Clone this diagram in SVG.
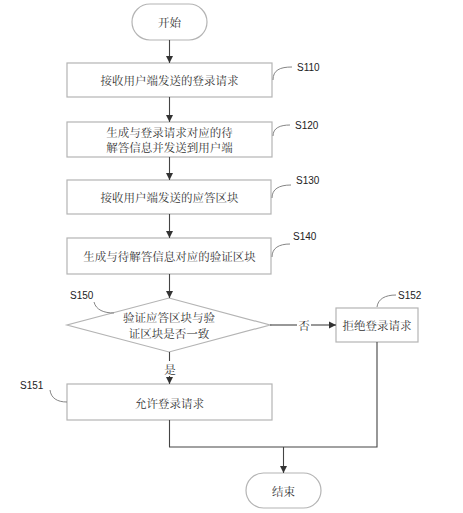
<svg xmlns="http://www.w3.org/2000/svg" width="463" height="513" viewBox="0 0 463 513">
<style>
.box{fill:#fff;stroke:#b4b4b4;stroke-width:1.2}
.t{font-family:"Noto Serif CJK SC","Noto Sans CJK SC",serif;font-size:11.5px;fill:#333;text-anchor:middle;dominant-baseline:central}
.lbl{font-family:"Liberation Sans",Arial,sans-serif;font-size:10px;fill:#222;dominant-baseline:central}
.ln{fill:none;stroke:#444;stroke-width:1.1}
.ld{fill:none;stroke:#777;stroke-width:0.9}
</style>
<defs>
<marker id="ah" markerWidth="8" markerHeight="8" refX="7" refY="4" orient="auto" markerUnits="userSpaceOnUse">
<path d="M0,0.5 L7,4 L0,7.5 Z" fill="#333"/>
</marker>
</defs>
<rect width="463" height="513" fill="#fff"/>
<g id="start"><rect class="box" x="132" y="4" width="75" height="36" rx="18"/><text class="t" x="169.5" y="22">开始</text></g>
<g id="s110"><rect class="box" x="67" y="63" width="205" height="34"/><text class="t" x="169.5" y="80">接收用户端发送的登录请求</text><path class="ld" d="M273,80 C273,70 280,67 292,67"/><text class="lbl" x="297" y="67">S110</text></g>
<g id="s120"><rect class="box" x="67" y="122" width="205" height="35"/><text class="t" x="169.5" y="132">生成与登录请求对应的待</text><text class="t" x="169.5" y="147">解答信息并发送到用户端</text><path class="ld" d="M273,136 C273,128 280,125 290,125"/><text class="lbl" x="295" y="125">S120</text></g>
<g id="s130"><rect class="box" x="67" y="180" width="204" height="34"/><text class="t" x="169.5" y="197">接收用户端发送的应答区块</text><path class="ld" d="M272,198 C272,189 279,185 291,185"/><text class="lbl" x="296" y="180">S130</text></g>
<g id="s140"><rect class="box" x="67" y="238" width="204" height="36"/><text class="t" x="169.5" y="256">生成与待解答信息对应的验证区块</text><path class="ld" d="M272,257 C272,248 279,244 290,244"/><text class="lbl" x="293" y="236">S140</text></g>
<g id="s150"><polygon class="box" points="169,298 270,325 169,352 67,325"/><text class="t" x="169" y="317">验证应答区块与验</text><text class="t" x="169" y="333">证区块是否一致</text><path class="ld" d="M94,302 C96,310 104,313 114,313"/><text class="lbl" x="70" y="295">S150</text></g>
<g id="s152"><rect class="box" x="336" y="308" width="82" height="34"/><text class="t" x="377" y="325">拒绝登录请求</text><path class="ld" d="M377,307 C378,299 385,295 396,295"/><text class="lbl" x="398" y="295">S152</text></g>
<g id="s151"><rect class="box" x="67" y="384" width="205" height="36"/><text class="t" x="169.5" y="403">允许登录请求</text><path class="ld" d="M50,390 C51,398 57,402 67,402"/><text class="lbl" x="20" y="385">S151</text></g>
<g id="end"><rect class="box" x="246" y="473" width="75" height="35" rx="17.5"/><text class="t" x="283.5" y="490.5">结束</text></g>
<g id="connectors">
<line class="ln" x1="169.5" y1="40" x2="169.5" y2="63" marker-end="url(#ah)"/>
<line class="ln" x1="169.5" y1="97" x2="169.5" y2="122" marker-end="url(#ah)"/>
<line class="ln" x1="169.5" y1="157" x2="169.5" y2="180" marker-end="url(#ah)"/>
<line class="ln" x1="169.5" y1="214" x2="169.5" y2="238" marker-end="url(#ah)"/>
<line class="ln" x1="169.5" y1="274" x2="169.5" y2="298" marker-end="url(#ah)"/>
<line class="ln" x1="270" y1="325" x2="297" y2="325"/>
<line class="ln" x1="311" y1="325" x2="336" y2="325" marker-end="url(#ah)"/>
<text class="t" x="304" y="325">否</text>
<line class="ln" x1="169.5" y1="352" x2="169.5" y2="361"/>
<text class="t" x="170" y="369">是</text>
<line class="ln" x1="169.5" y1="376" x2="169.5" y2="384" marker-end="url(#ah)"/>
<polyline class="ln" points="169.5,420 169.5,447 377,447 377,342"/>
<line class="ln" x1="283.5" y1="447" x2="283.5" y2="473" marker-end="url(#ah)"/>
</g>
</svg>
